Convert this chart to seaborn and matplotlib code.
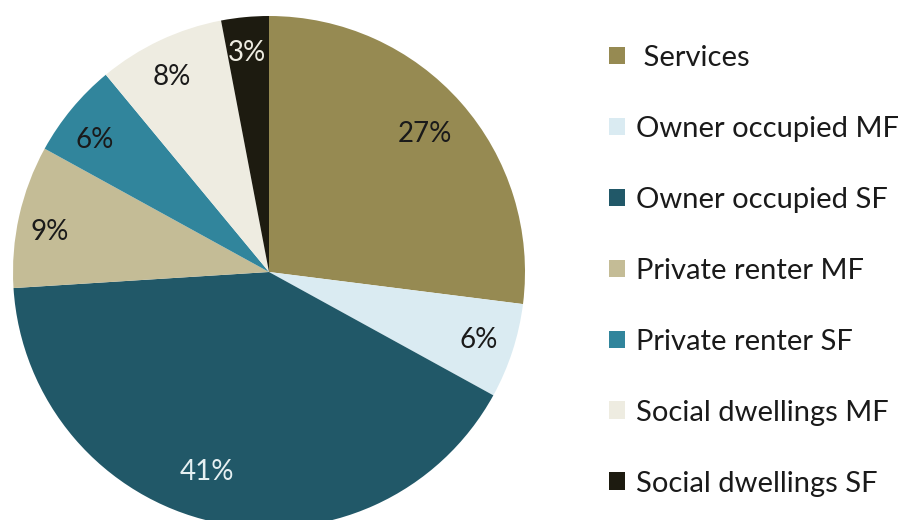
import matplotlib
matplotlib.use("Agg")
import numpy as np
import matplotlib.pyplot as plt
import seaborn as sns

# Share of floor area by building segment (%)
segments = [" Services", "Owner occupied MF", "Owner occupied SF",
            "Private renter MF", "Private renter SF",
            "Social dwellings MF", "Social dwellings SF"]
shares = [27, 6, 41, 9, 6, 8, 3]
colors = ["#968A52", "#DAEBF2", "#215868", "#C4BC96",
          "#31859C", "#EEECE1", "#1D1B10"]
label_colors = ["#1a1a1a", "#1a1a1a", "#E6F0F2", "#1a1a1a",
                "#1a1a1a", "#1a1a1a", "#EEECE1"]
# placement of each percentage label: radius (fraction of pie radius)
# and an angular nudge (degrees) away from the wedge's mid-angle
label_radius = [0.814, 0.861, 0.818, 0.870, 0.853, 0.851, 0.860]
label_nudge = [0.0, 0.0, -4.6, 2.2, 2.4, 1.2, 0.3]

sns.set_theme(style="white")
plt.rcParams["font.family"] = ["Lato", "DejaVu Sans"]
sns.set_palette(colors)

fig = plt.figure(figsize=(8.98, 5.2), dpi=100)
ax = fig.add_axes([13 / 898, -8 / 520, 512 / 898, 512 / 520])

wedges, texts, autotexts = ax.pie(
    shares, colors=sns.color_palette(), startangle=90, counterclock=False,
    autopct="%d%%", pctdistance=0.8,
    wedgeprops=dict(linewidth=0),
    textprops=dict(fontsize=20),
)
for w, t, c, r, d in zip(wedges, autotexts, label_colors, label_radius, label_nudge):
    mid = np.deg2rad(0.5 * (w.theta1 + w.theta2) + d)
    t.set_position((r * np.cos(mid), r * np.sin(mid)))
    t.set_color(c)
ax.set_xlim(-1, 1)
ax.set_ylim(-1, 1)
ax.set_aspect("equal")

fig.legend(
    wedges, segments, loc="upper left", bbox_to_anchor=(609 / 898, 1 - 45 / 520),
    frameon=False, fontsize=21, handlelength=0.55, handleheight=0.55,
    handletextpad=0.38, labelspacing=1.54, borderaxespad=0, borderpad=0,
    labelcolor="#1a1a1a",
)

fig.savefig("out.png", dpi=100, facecolor="white")
